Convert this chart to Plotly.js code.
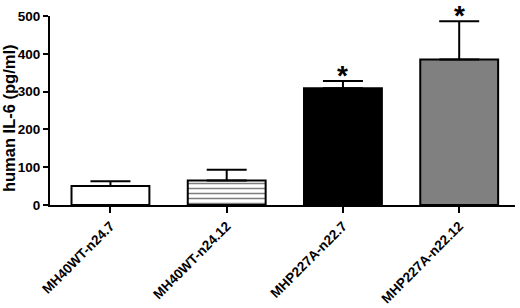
<!DOCTYPE html>
<html><head><meta charset="utf-8">
<script src="https://cdn.plot.ly/plotly-3.0.1.min.js"></script>
<style>html,body{margin:0;padding:0;background:#fff}#chart{width:520px;height:308px}</style>
</head><body><div id="chart"></div>
<script>
const categories = ["MH40WT-n24.7", "MH40WT-n24.12", "MHP227A-n22.7", "MHP227A-n22.12"];
const values = [50, 65, 309, 385];
const errors = [13, 28, 19, 101];
const significant = [false, false, true, true];
const fills = ["#ffffff", "#ffffff", "#000000", "#808080"];
const patterns = ["", "-", "", ""];
const yTitle = "human IL-6 (pg/ml)";

const font = "Liberation Sans, Arial, sans-serif";
const traces = categories.map((c, i) => {
  const m = {color: fills[i], line: {color: "#000", width: 2}};
  if (patterns[i]) m.pattern = {shape: patterns[i], fgcolor: "#000", bgcolor: fills[i], size: 5, solidity: 0.3, fillmode: "overlay"};
  return {
    type: "bar", x: [c], y: [values[i]], width: 0.67, marker: m,
    error_y: {type: "data", array: [errors[i]], arrayminus: [0], symmetric: false,
              color: "#000", thickness: 2, width: 20},
    hoverinfo: "none"
  };
});
const annotations = categories.map((c, i) => significant[i] ? {
  x: c, y: values[i] + errors[i], xref: "x", yref: "y", text: "*", showarrow: false,
  yanchor: "bottom", yshift: -11, borderpad: 0,
  font: {family: font, size: 28, color: "#000", weight: "bold"}
} : null).filter(a => a);
annotations.push({
  x: 0, y: 0.46, xref: "paper", yref: "paper", xanchor: "center", yanchor: "middle",
  xshift: -41, textangle: -90, text: yTitle, showarrow: false, borderpad: 0,
  font: {family: font, size: 16.5, color: "#000", weight: "bold"}
});

const layout = {
  width: 520, height: 308,
  margin: {l: 50, r: 5, t: 16, b: 103},
  paper_bgcolor: "#fff", plot_bgcolor: "#fff",
  showlegend: false, barmode: "overlay",
  font: {family: font, color: "#000"},
  xaxis: {
    type: "category", range: [-0.52, 3.48],
    showline: true, linecolor: "#000", linewidth: 2,
    ticks: "outside", ticklen: 6, tickwidth: 2, tickcolor: "#000",
    tickangle: -45, tickfont: {family: font, size: 13.5, weight: "bold"},
    showgrid: false, zeroline: false, fixedrange: true
  },
  yaxis: {
    range: [0, 500], tickvals: [0, 100, 200, 300, 400, 500],
    showline: true, linecolor: "#000", linewidth: 2,
    ticks: "outside", ticklen: 5, tickwidth: 2, tickcolor: "#000",
    tickfont: {family: font, size: 13.5, weight: "bold"},
    showgrid: false, zeroline: false
  },
  annotations: annotations
};
Plotly.newPlot("chart", traces, layout, {staticPlot: true, displayModeBar: false});
</script></body></html>
